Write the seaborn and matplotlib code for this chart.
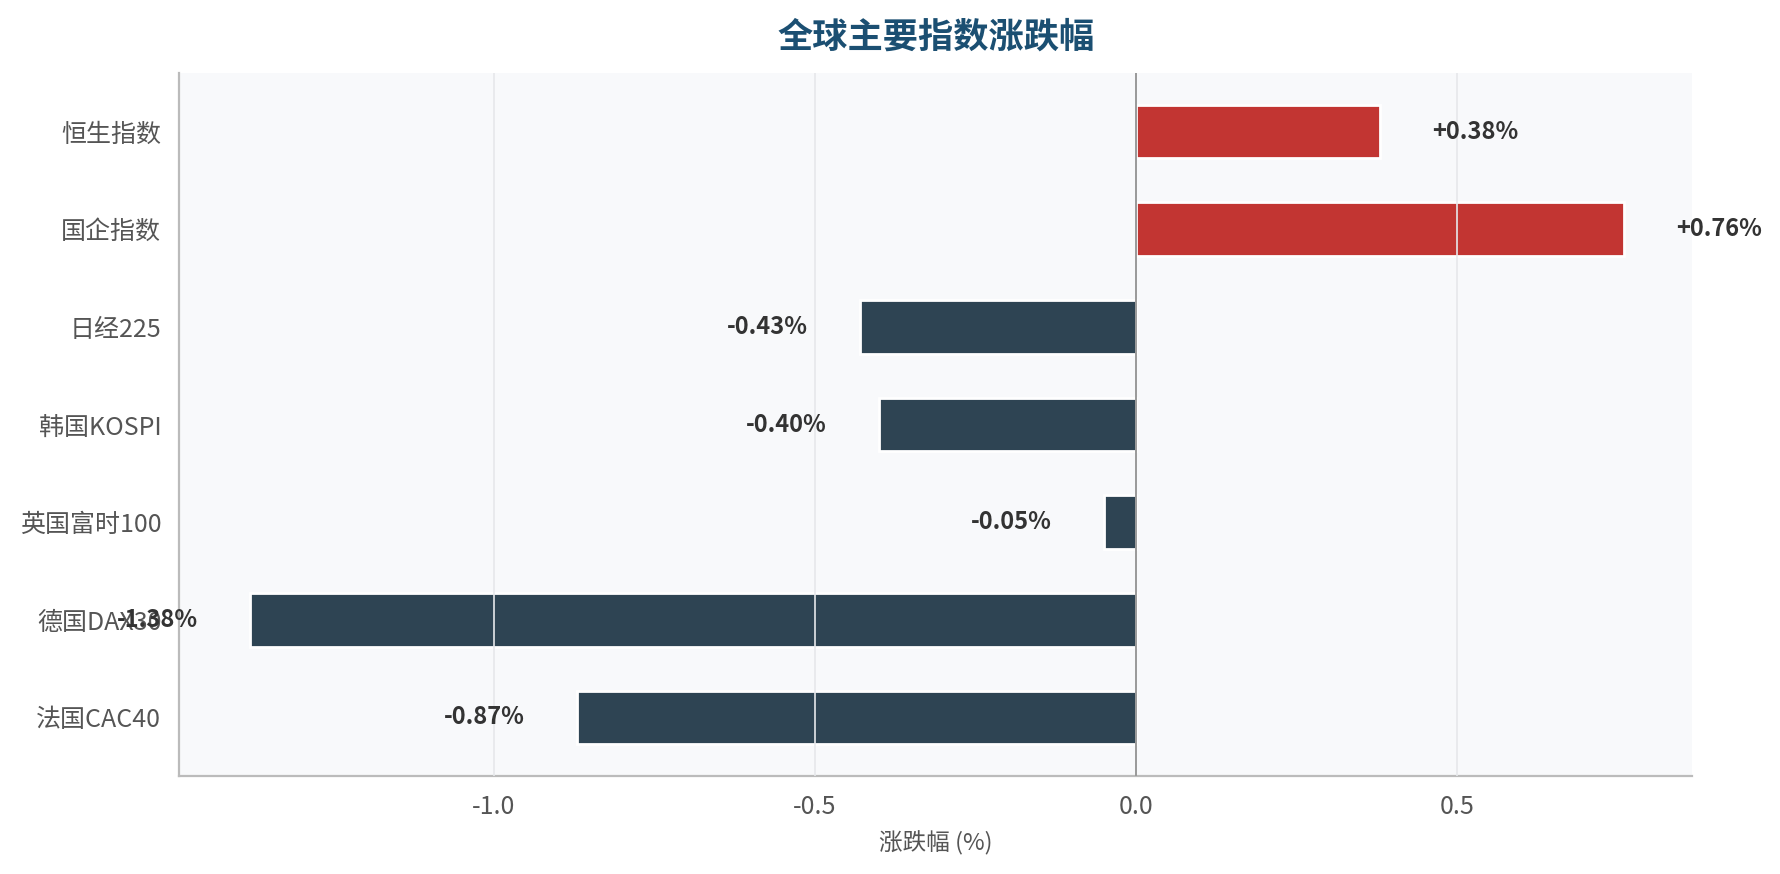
import numpy as np
import pandas as pd
import seaborn as sns
import matplotlib.pyplot as plt

# index names and daily change (%)
names = ['恒生指数', '国企指数', '日经225', '韩国KOSPI', '英国富时100', '德国DAX30', '法国CAC40']
changes = [0.38, 0.76, -0.43, -0.40, -0.05, -1.38, -0.87]

df = pd.DataFrame({'name': names, 'chg': changes})
df['dir'] = np.where(df['chg'] >= 0, 'up', 'down')

sns.set_style('white')
plt.rcParams['font.family'] = ['Noto Sans CJK SC', 'DejaVu Sans']
plt.rcParams['axes.unicode_minus'] = False

fig = plt.figure(figsize=(8.9, 4.37), dpi=200)
ax = fig.add_axes([0.1008, 0.1121, 0.8498, 0.8044])
ax.set_facecolor('#f8f9fb')

sns.barplot(data=df, y='name', x='chg', hue='dir', orient='h',
            palette={'up': '#c23532', 'down': '#2e4453'},
            width=0.55, legend=False, ax=ax, saturation=1)

ax.set_xlim(-1.49, 0.866)
ax.set_ylim(6.6, -0.6)
ax.axvline(0, color='#999999', lw=0.7, zorder=3)
ax.grid(axis='x', color='#e6e8eb', lw=0.6)
ax.grid(axis='y', visible=False)
ax.set_axisbelow(False)

# value labels
for i, v in enumerate(changes):
    off = 0.148 if v >= 0 else -0.145
    ax.text(v + off, i, f'{v:+.2f}%', ha='center', va='center',
            fontsize=8.5, fontweight='bold', color='#333333')

sns.despine(ax=ax)
for s in ['left', 'bottom']:
    ax.spines[s].set_color('#bbbbbb')
    ax.spines[s].set_linewidth(0.8)
ax.tick_params(axis='both', colors='#555555', labelsize=9, length=3, width=0.6)
ax.set_xticks([-1.0, -0.5, 0.0, 0.5])
ax.set_xticklabels(['-1.0', '-0.5', '0.0', '0.5'])
ax.set_ylabel('')
ax.set_xlabel('涨跌幅 (%)', fontsize=8.5, color='#555555')
ax.set_title('全球主要指数涨跌幅', fontsize=12.7, fontweight='bold', color='#1b4f72', pad=9)

fig.savefig('out.png', dpi=200)
